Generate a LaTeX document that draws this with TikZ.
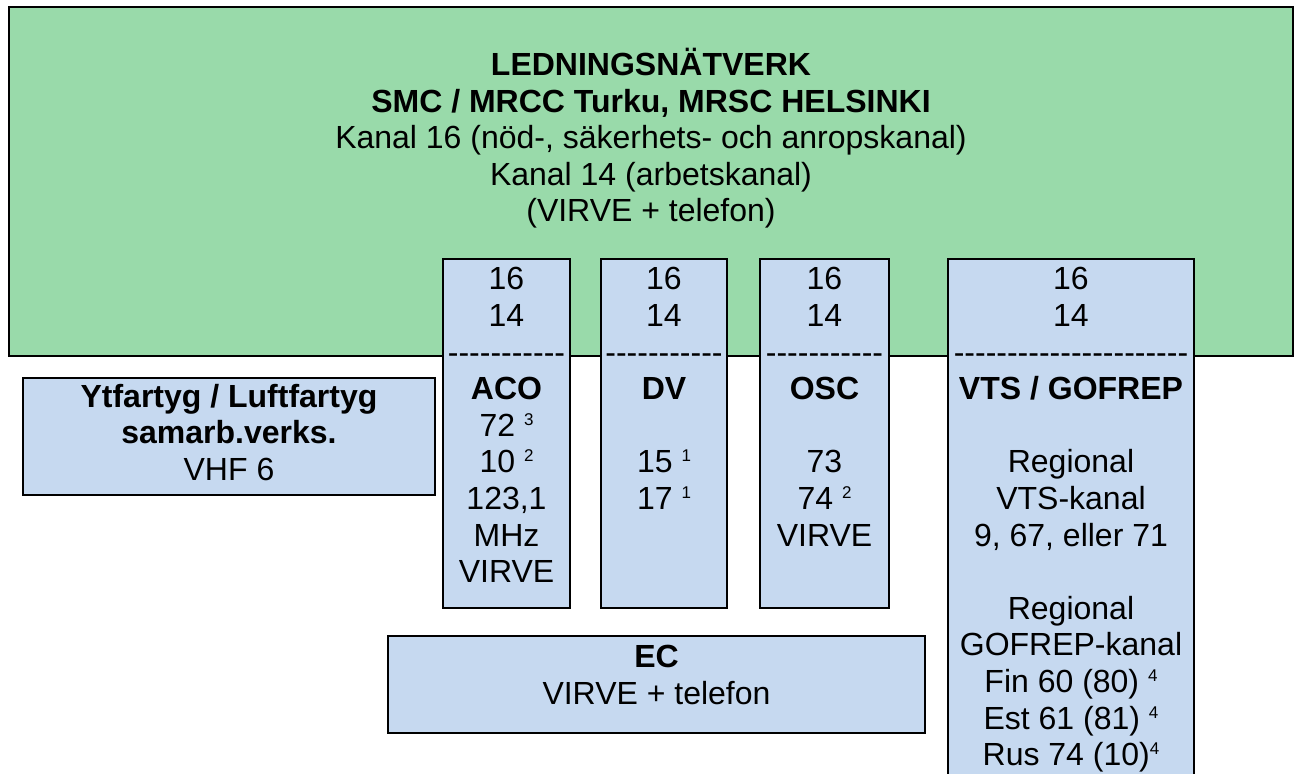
\documentclass[tikz,border=0pt]{standalone}
\usepackage{fontspec}
\setmainfont{Liberation Sans}
\usetikzlibrary{positioning}
\definecolor{netgreen}{RGB}{153,218,170}
\definecolor{unitblue}{RGB}{198,217,240}
\newcommand{\hyphrow}[1]{\foreach \k in {1,...,#1}{-\kern0pt}}
\newcommand{\fn}[1]{\raisebox{5.5pt}{\fontsize{8.5}{9}\selectfont #1}}

\begin{document}
\begin{tikzpicture}[x=0.5pt, y=-0.5pt,
  every node/.style={font=\fontsize{16}{18.3}\selectfont, align=center, inner sep=0pt},
  netbox/.style={draw, line width=1.3pt, fill=netgreen},
  unitbox/.style={draw, line width=1.3pt, fill=unitblue}]
  \clip (0,0) rectangle (1298,774);

  %% Command network
  \node[netbox, minimum width=642pt, minimum height=174.5pt] (net) at (651,181.5) {};
  \node[below=21pt of net.north] (nettext)
    {\textbf{LEDNINGSNÄTVERK}\\\textbf{SMC / MRCC Turku, MRSC HELSINKI}\\Kanal 16 (nöd-, säkerhets- och anropskanal)\\Kanal 14 (arbetskanal)\\(VIRVE + telefon)};

  %% Units
  \node[unitbox, minimum width=63.5pt, minimum height=174.5pt] (aco) at (506.5,433.5) {};
  \node[unitbox, minimum width=63pt, minimum height=174.5pt]   (dv)  at (664,433.5) {};
  \node[unitbox, minimum width=64.5pt, minimum height=174.5pt] (osc) at (824.5,433.5) {};
  \node[unitbox, minimum width=123pt, minimum height=270.5pt]  (vts) at (1071,529.5) {};

  \node[below=4.75pt of aco.north] (acotext)
    {16\\14\\\hyphrow{11}\\\textbf{ACO}\\72 \fn{3}\\10 \fn{2}\\123,1\\MHz\\VIRVE};
  \node[below=4.75pt of dv.north] (dvtext)
    {16\\14\\\hyphrow{11}\\\textbf{DV}\\ \\15 \fn{1}\\17 \fn{1}};
  \node[below=4.75pt of osc.north] (osctext)
    {16\\14\\\hyphrow{11}\\\textbf{OSC}\\ \\73\\74 \fn{2}\\VIRVE};
  \node[below=4.75pt of vts.north] (vtstext)
    {16\\14\\\hyphrow{22}\\\textbf{VTS / GOFREP}\\ \\Regional\\VTS-kanal\\9, 67, eller 71\\ \\Regional\\GOFREP-kanal\\Fin 60 (80) \fn{4}\\Est 61 (81) \fn{4}\\Rus 74 (10)\fn{4}};

  %% Cooperating vessels and EC
  \node[unitbox, minimum width=206pt, minimum height=58.5pt] (craft) at (229,436.5) {};
  \node[below=3.5pt of craft.north] (crafttext)
    {\textbf{Ytfartyg / Luftfartyg}\\\textbf{samarb.verks.}\\VHF 6};
  \node[unitbox, minimum width=268.5pt, minimum height=48.5pt] (ec) at (656.5,684.5) {};
  \node[below=5.25pt of ec.north] (ectext) {\textbf{EC}\\VIRVE + telefon};
\end{tikzpicture}
\end{document}
